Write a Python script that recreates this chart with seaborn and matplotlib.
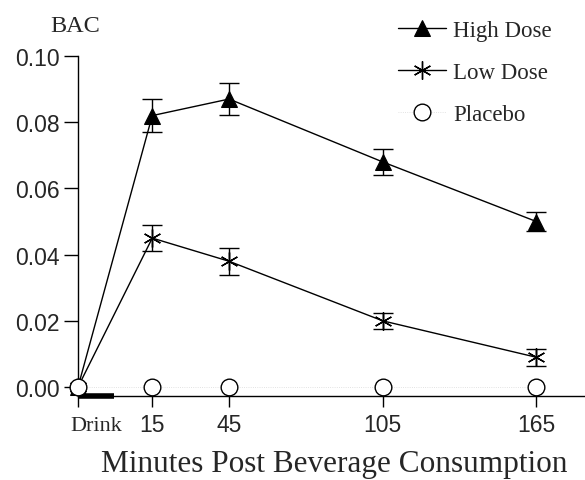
import matplotlib
matplotlib.use("Agg")
import matplotlib.pyplot as plt
import matplotlib.transforms as mtransforms
import seaborn as sns
import pandas as pd

# data
time_labels = ["Drink", "15", "45", "105", "165"]
time_pos = [-14, 15, 45, 105, 165]
high_dose = [0.0, 0.082, 0.087, 0.068, 0.050]
high_err = [0.0, 0.005, 0.0048, 0.004, 0.003]
low_dose = [0.0, 0.045, 0.038, 0.020, 0.009]
low_err = [0.0, 0.004, 0.004, 0.0025, 0.0025]
placebo = [0.0, 0.0, 0.0, 0.0, 0.0]
drink_period = [-14, 0]
y_ticks = [0.00, 0.02, 0.04, 0.06, 0.08, 0.10]

sns.set_style("ticks")
plt.rcParams['font.family'] = ['Liberation Sans', 'DejaVu Sans']
serif = ['Liberation Serif', 'DejaVu Serif']

fig = plt.figure(figsize=(5.85, 4.81), dpi=100)
ax = fig.add_axes([78 / 585, 1 - 397 / 481, 507 / 585, 340 / 481])

df = pd.DataFrame({"time": time_pos, "high": high_dose, "low": low_dose, "placebo": placebo})

# High dose
ax.errorbar(time_pos[1:], high_dose[1:], yerr=high_err[1:], fmt="none",
            ecolor="black", elinewidth=1, capsize=7, capthick=1)
sns.lineplot(data=df, x="time", y="high", ax=ax, color="black", lw=1,
             marker="^", markersize=11, markerfacecolor="black",
             markeredgecolor="black", label="High Dose", clip_on=False)

# Low dose
ax.errorbar(time_pos[1:], low_dose[1:], yerr=low_err[1:], fmt="none",
            ecolor="black", elinewidth=1, capsize=7, capthick=1)
sns.lineplot(data=df, x="time", y="low", ax=ax, color="black", lw=1,
             marker=(6, 2, 0), markersize=13, markeredgewidth=1,
             markeredgecolor="black", label="Low Dose", clip_on=False)

# Placebo
sns.lineplot(data=df, x="time", y="placebo", ax=ax, color="0.85", lw=0.6,
             linestyle=":", marker="o", markersize=12, markerfacecolor="white",
             markeredgecolor="black", markeredgewidth=1, label="Placebo",
             clip_on=False, zorder=6)

# drinking period bar on the axis
ax.plot(drink_period, [-0.0027, -0.0027], color="black", lw=4,
        solid_capstyle="butt", clip_on=False, zorder=5)

ax.set_xlim(-14, 184)
ax.set_ylim(-0.0027, 0.10)
ax.set_xticks(time_pos)
ax.set_xticklabels(time_labels)
ax.set_yticks(y_ticks)
ax.set_yticklabels([f"{v:.2f}" for v in y_ticks])
ax.tick_params(axis="both", labelsize=16.5, length=8, width=1, direction="out",
               pad=4, color="black")
ax.tick_params(axis="y", length=10, pad=3)
drink_lbl = ax.get_xticklabels()[0]
drink_lbl.set_fontfamily(serif)
drink_lbl.set_fontsize(16)
drink_lbl.set_transform(drink_lbl.get_transform() +
                        mtransforms.ScaledTranslation(18 / 100, -3 / 100, fig.dpi_scale_trans))
ax.set_xlabel("")
ax.set_ylabel("")
sns.despine(ax=ax)
for s in ["left", "bottom"]:
    ax.spines[s].set_linewidth(1)
    ax.spines[s].set_color("black")

fig.text(75 / 585, 1 - 32 / 481, "BAC", family=serif, fontsize=17.5,
         ha="center", va="baseline")
fig.text(334 / 585, 1 - 472 / 481, "Minutes Post Beverage Consumption",
         family=serif, fontsize=22.5, ha="center", va="baseline")

leg = ax.legend(loc="upper left", bbox_to_anchor=(389 / 585, 1 - 12 / 481),
                bbox_transform=fig.transFigure, frameon=False, borderaxespad=0,
                prop={"family": serif, "size": 16.5}, handlelength=2.1,
                handletextpad=0.3, labelspacing=0.9)

fig.savefig("out.png", dpi=100)
